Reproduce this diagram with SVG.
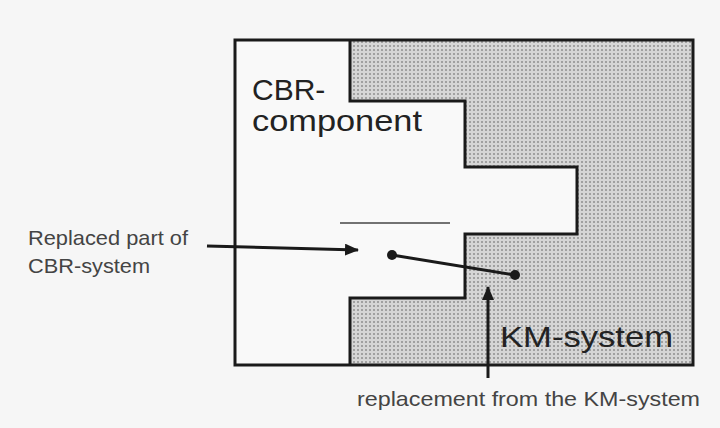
<svg xmlns="http://www.w3.org/2000/svg" width="720" height="428" viewBox="0 0 720 428">
<style>
.big{font-family:"Liberation Sans",Arial,sans-serif;font-size:30px;fill:#222}
.small{font-family:"Liberation Sans",Arial,sans-serif;font-size:21px;fill:#444}
.edge{stroke:#1a1a1a;stroke-width:3;fill:none}
</style>
<defs>
<pattern id="dots" width="4" height="4" patternUnits="userSpaceOnUse">
<rect width="4" height="4" fill="#d6d6d6"/>
<circle cx="2" cy="2" r="1" fill="#8f8f8f"/>
</pattern>
<marker id="ah" viewBox="0 0 14 12" refX="13" refY="6" markerWidth="14" markerHeight="12" markerUnits="userSpaceOnUse" orient="auto">
<path d="M0,0 L14,6 L0,12 z" fill="#1a1a1a"/>
</marker>
</defs>
<rect width="720" height="428" fill="#f6f6f6"/>
<g id="cbr-component">
<rect x="235" y="40" width="458" height="325" fill="#f9f9f9" stroke="none"/>
<text class="big" x="252" y="100">CBR-</text>
<text class="big" x="252" y="131" textLength="170" lengthAdjust="spacingAndGlyphs">component</text>
</g>
<g id="km-system">
<polygon points="350,40 693,40 693,365 350,365 350,298 465,298 465,234 577,234 577,167 465,167 465,101 350,101" fill="url(#dots)"/>
<polyline class="edge" points="350,40 350,101 465,101 465,167 577,167 577,234 465,234 465,298 350,298 350,365"/>
<text class="big" x="500" y="347" font-size="33" textLength="173" lengthAdjust="spacingAndGlyphs">KM-system</text>
</g>
<rect id="frame" x="235" y="40" width="458" height="325" class="edge"/>
<g id="replaced-part">
<line x1="340" y1="223" x2="450" y2="223" stroke="#444" stroke-width="1.5"/>
</g>
<g id="labels">
<text class="small" x="28" y="245" textLength="160" lengthAdjust="spacingAndGlyphs">Replaced part of</text>
<text class="small" x="28" y="273" textLength="122" lengthAdjust="spacingAndGlyphs">CBR-system</text>
<text class="small" x="357" y="406" textLength="343" lengthAdjust="spacingAndGlyphs">replacement from the KM-system</text>
</g>
<g id="connectors">
<line x1="207" y1="246" x2="358" y2="250" class="edge" marker-end="url(#ah)"/>
<line x1="392" y1="255" x2="515" y2="275" class="edge"/>
<circle cx="392" cy="255" r="5" fill="#1a1a1a"/>
<circle cx="515" cy="275" r="5" fill="#1a1a1a"/>
<line x1="488" y1="378" x2="488" y2="287" class="edge" marker-end="url(#ah)"/>
</g>
</svg>
